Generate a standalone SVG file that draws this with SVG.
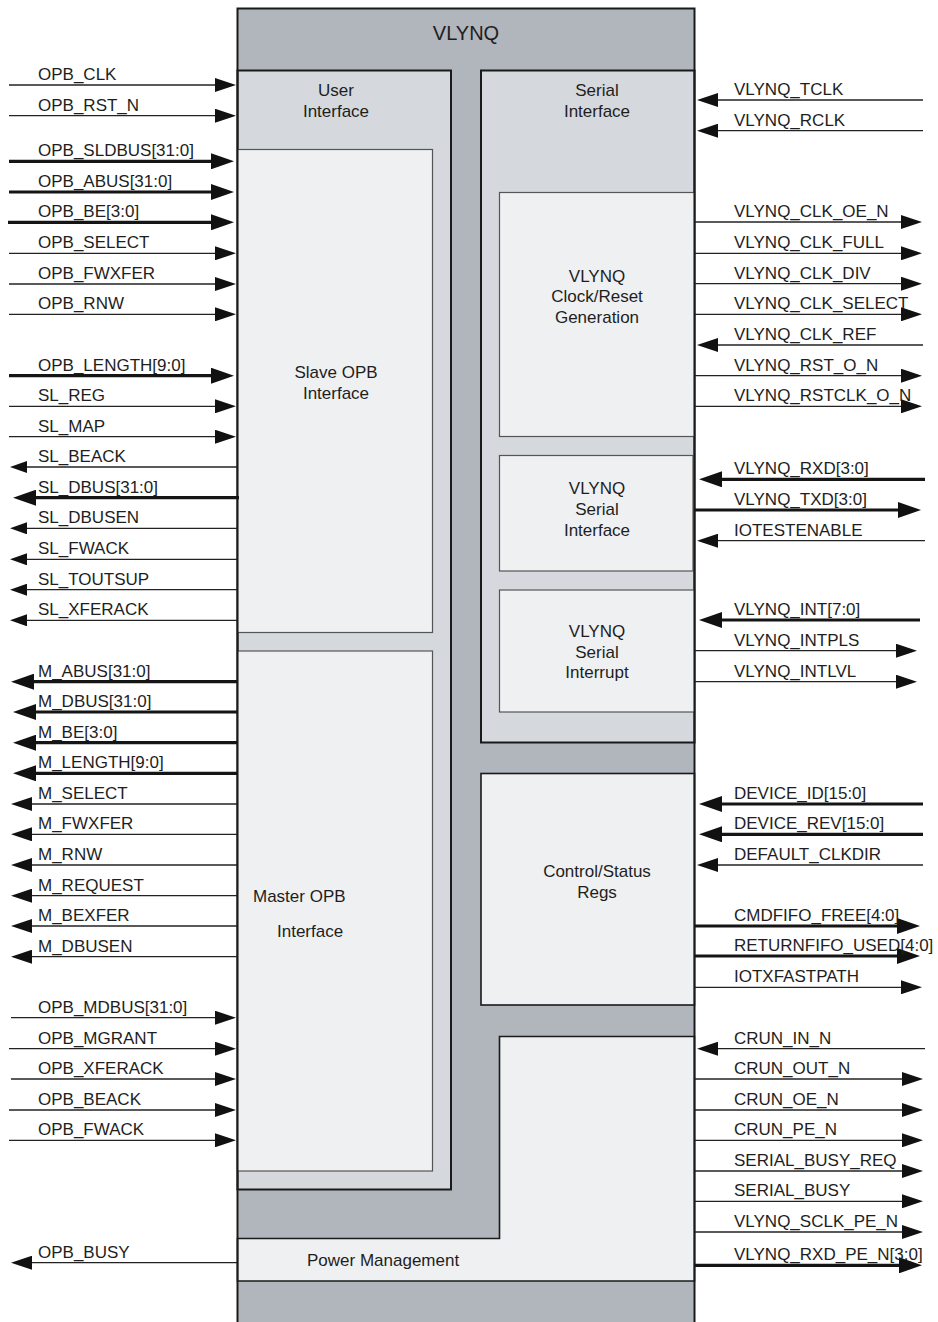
<svg xmlns="http://www.w3.org/2000/svg" width="938" height="1322" viewBox="0 0 938 1322">
<style>
text{font-family:"Liberation Sans",Arial,Helvetica,sans-serif;font-size:17px;fill:#1e1e1e}
.c{text-anchor:middle}
.t{stroke:#222;stroke-width:1.3;fill:none}
.b{stroke:#151515;stroke-width:3.2;fill:none}
.in{marker-end:url(#mt)}
.sm{marker-end:url(#ms)}
.bb{marker-end:url(#mb)}
.g1{fill:#b1b5bc}
.g2{fill:#d5d8dc;stroke:#1a1a1a;stroke-width:2}
.g3{fill:#eff0f2;stroke:#555;stroke-width:1.2}
.g3d{fill:#eff0f2;stroke:#1a1a1a;stroke-width:1.6}
</style>
<defs>
<marker id="mt" markerUnits="userSpaceOnUse" markerWidth="21" markerHeight="14" refX="11" refY="7" orient="auto"><path d="M0,0L21,7L0,14z" fill="#111"/></marker>
<marker id="ms" markerUnits="userSpaceOnUse" markerWidth="17" markerHeight="12" refX="7" refY="6" orient="auto"><path d="M0,0L17,6L0,12z" fill="#111"/></marker>
<marker id="mb" markerUnits="userSpaceOnUse" markerWidth="23" markerHeight="16" refX="13" refY="8" orient="auto"><path d="M0,0L23,8L0,16z" fill="#111"/></marker>
</defs>
<rect width="938" height="1322" fill="#fff"/>

<g id="vlynq">
<rect class="g1" x="237.5" y="8.5" width="457" height="1325"/>
<text x="466" y="40" class="c" style="font-size:20px">VLYNQ</text>
</g>

<g id="user-interface">
<rect class="g2" x="237.5" y="70.5" width="213.5" height="1119"/>
<text x="336" y="96" class="c">User</text>
<text x="336" y="117" class="c">Interface</text>
</g>

<g id="slave-opb">
<rect class="g3" x="237.5" y="149.5" width="195" height="483"/>
<text x="336" y="378" class="c">Slave OPB</text>
<text x="336" y="399" class="c">Interface</text>
</g>

<g id="master-opb">
<rect class="g3" x="237.5" y="651" width="195" height="520"/>
<text x="253" y="902">Master OPB</text>
<text x="277" y="937">Interface</text>
</g>

<g id="serial-interface">
<rect class="g2" x="481" y="70.5" width="213.5" height="672"/>
<text x="597" y="96" class="c">Serial</text>
<text x="597" y="117" class="c">Interface</text>
</g>

<g id="clock-reset">
<rect class="g3" x="499.5" y="192.5" width="195" height="244"/>
<text x="597" y="282" class="c">VLYNQ</text>
<text x="597" y="302" class="c">Clock/Reset</text>
<text x="597" y="323" class="c">Generation</text>
</g>

<g id="vlynq-serial-interface">
<rect class="g3" x="499.5" y="455.5" width="193.5" height="115.5"/>
<text x="597" y="494" class="c">VLYNQ</text>
<text x="597" y="515" class="c">Serial</text>
<text x="597" y="536" class="c">Interface</text>
</g>

<g id="vlynq-serial-interrupt">
<rect class="g3" x="499.5" y="590" width="195" height="122"/>
<text x="597" y="637" class="c">VLYNQ</text>
<text x="597" y="658" class="c">Serial</text>
<text x="597" y="678" class="c">Interrupt</text>
</g>

<g id="control-status">
<rect class="g3d" x="481" y="773.5" width="213.5" height="231.5"/>
<text x="597" y="877" class="c">Control/Status</text>
<text x="597" y="898" class="c">Regs</text>
</g>

<g id="power-management">
<path class="g3d" d="M499.5,1036.5H694.5V1281H237.5V1238.5H499.5Z"/>
<text x="307" y="1266">Power Management</text>
</g>

<g id="vlynq-frame">
<rect x="237.5" y="8.5" width="457" height="1325" fill="none" stroke="#1a1a1a" stroke-width="2"/>
</g>

<g id="connectors">
<!-- left inputs -->
<line class="t in" x1="9" y1="85" x2="226" y2="85"/>
<line class="t in" x1="9" y1="115.7" x2="226" y2="115.7"/>
<line class="b bb" x1="9" y1="161.3" x2="224" y2="161.3"/>
<line class="b bb" x1="9" y1="192" x2="224" y2="192"/>
<line class="b bb" x1="8" y1="222.3" x2="224" y2="222.3"/>
<line class="t in" x1="9" y1="253.3" x2="226" y2="253.3"/>
<line class="t in" x1="9" y1="284" x2="226" y2="284"/>
<line class="t in" x1="9" y1="314.3" x2="226" y2="314.3"/>
<line class="b bb" x1="9" y1="375.7" x2="224" y2="375.7"/>
<line class="t in" x1="9" y1="406.3" x2="226" y2="406.3"/>
<line class="t in" x1="9" y1="436.7" x2="226" y2="436.7"/>
<!-- left outputs -->
<line class="t sm" x1="237" y1="467" x2="20" y2="467"/>
<line class="b bb" x1="239" y1="497.7" x2="23" y2="497.7"/>
<line class="t sm" x1="237" y1="528.3" x2="20" y2="528.3"/>
<line class="t sm" x1="237" y1="559.3" x2="20" y2="559.3"/>
<line class="t sm" x1="237" y1="589.7" x2="20" y2="589.7"/>
<line class="t sm" x1="237" y1="620.3" x2="20" y2="620.3"/>
<line class="b bb" x1="237" y1="681.7" x2="21" y2="681.7"/>
<line class="b bb" x1="237" y1="712" x2="23" y2="712"/>
<line class="b bb" x1="237" y1="742.7" x2="23" y2="742.7"/>
<line class="b bb" x1="237" y1="773.3" x2="23" y2="773.3"/>
<line class="t in" x1="237" y1="804" x2="21" y2="804"/>
<line class="t in" x1="237" y1="834.3" x2="21" y2="834.3"/>
<line class="t in" x1="237" y1="865" x2="21" y2="865"/>
<line class="t in" x1="237" y1="895.7" x2="21" y2="895.7"/>
<line class="t in" x1="237" y1="926" x2="21" y2="926"/>
<line class="t in" x1="237" y1="956.7" x2="21" y2="956.7"/>
<!-- master inputs -->
<line class="t in" x1="11" y1="1017.7" x2="226" y2="1017.7"/>
<line class="t in" x1="9" y1="1048.7" x2="226" y2="1048.7"/>
<line class="t in" x1="11" y1="1079" x2="226" y2="1079"/>
<line class="t in" x1="9" y1="1110" x2="226" y2="1110"/>
<line class="t in" x1="9" y1="1140.3" x2="226" y2="1140.3"/>
<line class="t in" x1="237" y1="1262.7" x2="21" y2="1262.7"/>

<!-- right side -->
<line class="t in" x1="923" y1="100" x2="707" y2="100"/>
<line class="t in" x1="923" y1="130.7" x2="707" y2="130.7"/>
<line class="t in" x1="695" y1="222" x2="912" y2="222"/>
<line class="t in" x1="695" y1="253.3" x2="912" y2="253.3"/>
<line class="t in" x1="695" y1="283.7" x2="912" y2="283.7"/>
<line class="t in" x1="695" y1="314.3" x2="912" y2="314.3"/>
<line class="t in" x1="923" y1="345" x2="707" y2="345"/>
<line class="t in" x1="695" y1="375.7" x2="912" y2="375.7"/>
<line class="t in" x1="695" y1="406.3" x2="912" y2="406.3"/>
<line class="b bb" x1="925" y1="479.3" x2="709" y2="479.3"/>
<line class="b bb" x1="695" y1="510" x2="911" y2="510"/>
<line class="t in" x1="925" y1="540.7" x2="707" y2="540.7"/>
<line class="b bb" x1="920" y1="620" x2="709" y2="620"/>
<line class="t in" x1="695" y1="650.7" x2="907" y2="650.7"/>
<line class="t in" x1="695" y1="681.7" x2="907" y2="681.7"/>
<line class="b bb" x1="923" y1="804" x2="709" y2="804"/>
<line class="b bb" x1="923" y1="834.3" x2="709" y2="834.3"/>
<line class="t in" x1="923" y1="865" x2="707" y2="865"/>
<line class="b bb" x1="695" y1="926" x2="910" y2="926"/>
<line class="b bb" x1="695" y1="956" x2="910" y2="956"/>
<line class="t in" x1="695" y1="987.3" x2="912" y2="987.3"/>
<line class="t in" x1="925" y1="1048.7" x2="707" y2="1048.7"/>
<line class="t in" x1="695" y1="1079" x2="913" y2="1079"/>
<line class="t in" x1="695" y1="1110" x2="913" y2="1110"/>
<line class="t in" x1="695" y1="1140.3" x2="913" y2="1140.3"/>
<line class="t in" x1="695" y1="1171" x2="913" y2="1171"/>
<line class="t in" x1="695" y1="1201.3" x2="913" y2="1201.3"/>
<line class="t in" x1="695" y1="1232" x2="913" y2="1232"/>
<line class="b bb" x1="695" y1="1265.3" x2="912" y2="1265.3"/>
</g>

<g id="signal-labels">
<text x="38" y="80">OPB_CLK</text>
<text x="38" y="110.7">OPB_RST_N</text>
<text x="38" y="156.3">OPB_SLDBUS[31:0]</text>
<text x="38" y="187">OPB_ABUS[31:0]</text>
<text x="38" y="217.3">OPB_BE[3:0]</text>
<text x="38" y="248.3">OPB_SELECT</text>
<text x="38" y="279">OPB_FWXFER</text>
<text x="38" y="309.3">OPB_RNW</text>
<text x="38" y="370.7">OPB_LENGTH[9:0]</text>
<text x="38" y="401.3">SL_REG</text>
<text x="38" y="431.7">SL_MAP</text>
<text x="38" y="462">SL_BEACK</text>
<text x="38" y="492.7">SL_DBUS[31:0]</text>
<text x="38" y="523.3">SL_DBUSEN</text>
<text x="38" y="554.3">SL_FWACK</text>
<text x="38" y="584.7">SL_TOUTSUP</text>
<text x="38" y="615.3">SL_XFERACK</text>
<text x="38" y="676.7">M_ABUS[31:0]</text>
<text x="38" y="707">M_DBUS[31:0]</text>
<text x="38" y="737.7">M_BE[3:0]</text>
<text x="38" y="768.3">M_LENGTH[9:0]</text>
<text x="38" y="799">M_SELECT</text>
<text x="38" y="829.3">M_FWXFER</text>
<text x="38" y="860">M_RNW</text>
<text x="38" y="890.7">M_REQUEST</text>
<text x="38" y="921">M_BEXFER</text>
<text x="38" y="951.7">M_DBUSEN</text>
<text x="38" y="1012.7">OPB_MDBUS[31:0]</text>
<text x="38" y="1043.7">OPB_MGRANT</text>
<text x="38" y="1074">OPB_XFERACK</text>
<text x="38" y="1105">OPB_BEACK</text>
<text x="38" y="1135.3">OPB_FWACK</text>
<text x="38" y="1257.7">OPB_BUSY</text>

<text x="734" y="95">VLYNQ_TCLK</text>
<text x="734" y="125.7">VLYNQ_RCLK</text>
<text x="734" y="217">VLYNQ_CLK_OE_N</text>
<text x="734" y="248.3">VLYNQ_CLK_FULL</text>
<text x="734" y="278.7">VLYNQ_CLK_DIV</text>
<text x="734" y="309.3">VLYNQ_CLK_SELECT</text>
<text x="734" y="340">VLYNQ_CLK_REF</text>
<text x="734" y="370.7">VLYNQ_RST_O_N</text>
<text x="734" y="401.3">VLYNQ_RSTCLK_O_N</text>
<text x="734" y="474.3">VLYNQ_RXD[3:0]</text>
<text x="734" y="505">VLYNQ_TXD[3:0]</text>
<text x="734" y="535.7">IOTESTENABLE</text>
<text x="734" y="615">VLYNQ_INT[7:0]</text>
<text x="734" y="645.7">VLYNQ_INTPLS</text>
<text x="734" y="676.7">VLYNQ_INTLVL</text>
<text x="734" y="799">DEVICE_ID[15:0]</text>
<text x="734" y="829.3">DEVICE_REV[15:0]</text>
<text x="734" y="860">DEFAULT_CLKDIR</text>
<text x="734" y="921">CMDFIFO_FREE[4:0]</text>
<text x="734" y="951">RETURNFIFO_USED[4:0]</text>
<text x="734" y="982.3">IOTXFASTPATH</text>
<text x="734" y="1043.7">CRUN_IN_N</text>
<text x="734" y="1074">CRUN_OUT_N</text>
<text x="734" y="1105">CRUN_OE_N</text>
<text x="734" y="1135.3">CRUN_PE_N</text>
<text x="734" y="1166">SERIAL_BUSY_REQ</text>
<text x="734" y="1196.3">SERIAL_BUSY</text>
<text x="734" y="1227">VLYNQ_SCLK_PE_N</text>
<text x="734" y="1260.3">VLYNQ_RXD_PE_N[3:0]</text>
</g>
</svg>
